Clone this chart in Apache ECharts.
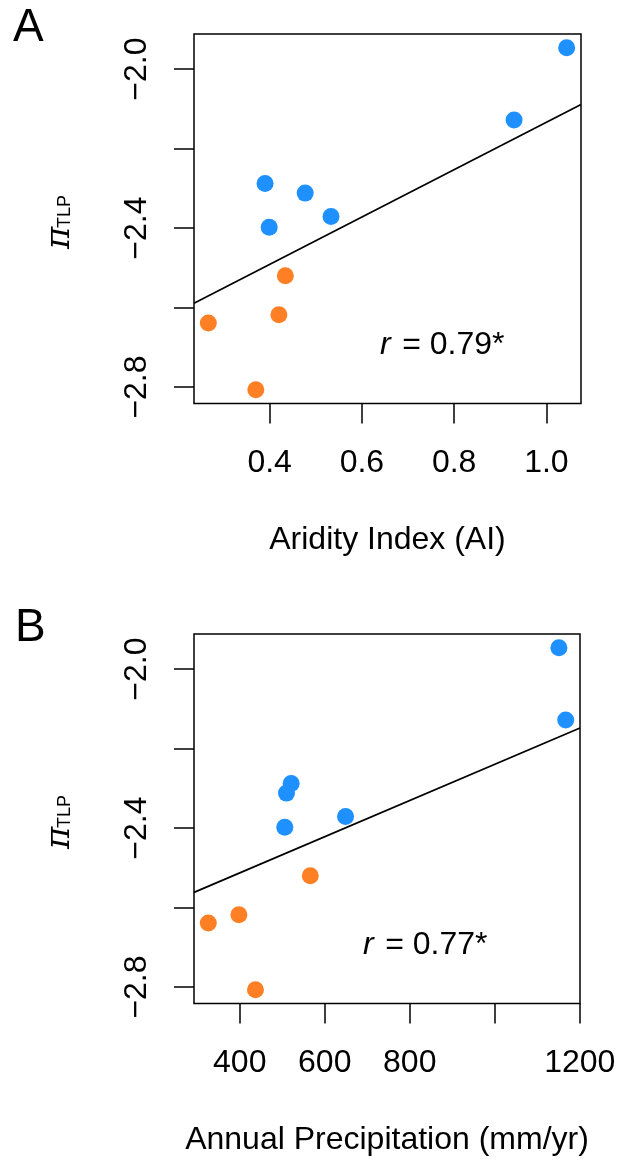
<!DOCTYPE html>
<html>
<head>
<meta charset="utf-8">
<script src="https://cdn.jsdelivr.net/npm/echarts@6/dist/echarts.min.js"></script>
<style>
  html, body { margin: 0; padding: 0; background: #fff; }
  #chart { width: 620px; height: 1162px; }
</style>
</head>
<body>
<div id="chart"></div>
<script>
// Turgor loss point (MPa) per species, shared by both panels
const piTLP = [-1.946, -2.128, -2.288, -2.312, -2.371, -2.398, -2.520, -2.618, -2.639, -2.807];
// Site climate for the same species
const aridityIndex = [1.044, 0.930, 0.390, 0.477, 0.533, 0.399, 0.434, 0.420, 0.267, 0.370];
const precipitation = [1151, 1167, 521, 510, 649, 506, 566, 398, 326, 437];
// 0 = blue group, 1 = orange group
const groupIndex = [0, 0, 0, 0, 0, 0, 1, 1, 1, 1];
const groupColors = ['#1E90FF', '#FF7F24'];

// Fitted lines: [intercept, slope]
const fitAridity = [-2.730, 0.596];
const fitPrecip = [-2.695, 0.0004556];
const rValues = ['0.79*', '0.77*'];

// Ticks and labelled ticks
const yTicks = [-2.8, -2.6, -2.4, -2.2, -2.0];
const yLabelTicks = [-2.8, -2.4, -2.0];
const xTicksA = [0.4, 0.6, 0.8, 1.0];
const xTicksB = [400, 600, 800, 1000, 1200];
const xLabelTicksB = [400, 600, 800, 1200];

const FONT = 'Liberation Sans, Arial, Helvetica, sans-serif';
const FS = 32;

// Axis limits padded by 4% of the data range on each side
function padRange(values) {
  const lo = Math.min(...values), hi = Math.max(...values);
  const pad = (hi - lo) * 0.04;
  return [lo - pad, hi + pad];
}

const yRange = padRange(piTLP);
const xRangeA = padRange(aridityIndex);
const xRangeB = padRange(precipitation);

function groupPoints(xs, g) {
  const out = [];
  xs.forEach((x, i) => { if (groupIndex[i] === g) out.push([x, piTLP[i]]); });
  return out;
}

function fitPoints(range, fit) {
  return range.map(x => [x, fit[0] + fit[1] * x]);
}

const minus = s => s.replace('-', '\u2212');

function yAxisFor(gridIndex) {
  return {
    type: 'value', gridIndex,
    min: yRange[0], max: yRange[1],
    axisLine: { show: false },
    splitLine: { show: false },
    axisTick: { show: true, inside: false, length: 20, customValues: yTicks,
                lineStyle: { color: '#000', width: 1.5 } },
    axisLabel: { show: true, rotate: 90, margin: 41, customValues: yLabelTicks,
                 color: '#000', fontSize: FS, fontFamily: FONT,
                 formatter: v => minus(v.toFixed(1)) }
  };
}

function xAxisFor(gridIndex, range, ticks, labelTicks, fmt, name) {
  return {
    type: 'value', gridIndex,
    min: range[0], max: range[1],
    axisLine: { show: false },
    splitLine: { show: false },
    axisTick: { show: true, inside: false, length: 20, customValues: ticks,
                lineStyle: { color: '#000', width: 1.5 } },
    axisLabel: { show: true, margin: 44, customValues: labelTicks,
                 color: '#000', fontSize: FS, fontFamily: FONT, formatter: fmt },
    name, nameLocation: 'middle', nameGap: 121,
    nameTextStyle: { color: '#000', fontSize: FS, fontFamily: FONT }
  };
}

function scatter(xi, yi, xs, g) {
  return {
    type: 'scatter', xAxisIndex: xi, yAxisIndex: yi,
    symbol: 'circle', symbolSize: 17,
    itemStyle: { color: groupColors[g], opacity: 1 },
    data: groupPoints(xs, g), z: 3
  };
}

function fitLine(xi, yi, range, fit) {
  return {
    type: 'line', xAxisIndex: xi, yAxisIndex: yi,
    data: fitPoints(range, fit), symbol: 'none', clip: true,
    lineStyle: { color: '#000', width: 1.7 }, z: 2
  };
}

function yTitle(cx, cy) {
  return {
    type: 'group', x: cx, y: cy, rotation: Math.PI / 2,
    children: [
      { type: 'text', x: -25, y: 0,
        style: { text: '\u03c0', font: 'italic 34px "DejaVu Serif", "Liberation Serif", serif',
                 fill: '#000', textAlign: 'left', textVerticalAlign: 'middle' } },
      { type: 'text', x: -4, y: 5,
        style: { text: 'TLP', font: '18px ' + FONT,
                 fill: '#000', textAlign: 'left', textVerticalAlign: 'middle' } }
    ]
  };
}

function rText(x, y, val) {
  return {
    type: 'text', x, y,
    style: {
      text: '{i|r}\u200a = ' + val,
      rich: { i: { fontStyle: 'italic', fontSize: FS, fontFamily: FONT, fill: '#000' } },
      font: FS + 'px ' + FONT, fill: '#000',
      textAlign: 'left', textVerticalAlign: 'middle'
    }
  };
}

function panelLetter(x, y, s) {
  return {
    type: 'text', x, y,
    style: { text: s, font: '46px ' + FONT, fill: '#000',
             textAlign: 'left', textVerticalAlign: 'middle' }
  };
}

const chart = echarts.init(document.getElementById('chart'), null, { renderer: 'canvas' });
chart.setOption({
  animation: false,
  backgroundColor: '#fff',
  grid: [
    { left: 194, right: 39, top: 34, bottom: 758.5, show: true,
      borderColor: '#000', borderWidth: 1.5, backgroundColor: 'transparent' },
    { left: 194, right: 40, top: 634, bottom: 158.5, show: true,
      borderColor: '#000', borderWidth: 1.5, backgroundColor: 'transparent' }
  ],
  xAxis: [
    xAxisFor(0, xRangeA, xTicksA, xTicksA, v => v.toFixed(1), 'Aridity Index (AI)'),
    xAxisFor(1, xRangeB, xTicksB, xLabelTicksB, v => String(Math.round(v)), 'Annual Precipitation (mm/yr)')
  ],
  yAxis: [yAxisFor(0), yAxisFor(1)],
  series: [
    fitLine(0, 0, xRangeA, fitAridity),
    scatter(0, 0, aridityIndex, 0),
    scatter(0, 0, aridityIndex, 1),
    fitLine(1, 1, xRangeB, fitPrecip),
    scatter(1, 1, precipitation, 0),
    scatter(1, 1, precipitation, 1)
  ],
  graphic: [
    panelLetter(13, 28, 'A'),
    panelLetter(15, 628, 'B'),
    yTitle(60, 224),
    yTitle(60, 824),
    rText(380, 345, rValues[0]),
    rText(363, 945, rValues[1])
  ]
});
</script>
</body>
</html>
